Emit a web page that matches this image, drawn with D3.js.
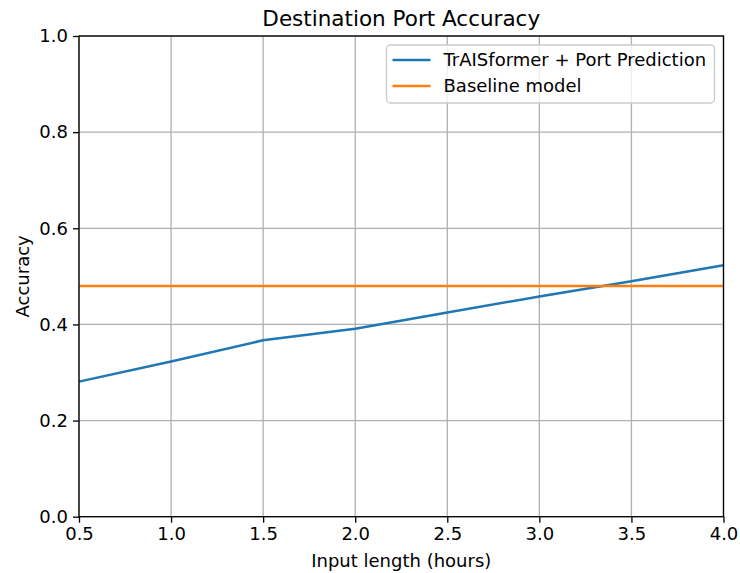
<!DOCTYPE html>
<html>
<head>
<meta charset="utf-8">
<script src="https://cdn.jsdelivr.net/npm/d3@7"></script>
<style>
  body { margin: 0; background: #fff; }
  text { font-family: "DejaVu Sans", sans-serif; fill: #000; }
</style>
</head>
<body>
<div id="vis"></div>
<script>
// data
var inputHours = [0.5, 1.0, 1.5, 2.0, 2.5, 3.0, 3.5, 4.0];
var portAccuracy = [0.281, 0.323, 0.367, 0.391, 0.425, 0.458, 0.490, 0.523];
var baselineAccuracy = 0.48;
var xTicks = [0.5, 1.0, 1.5, 2.0, 2.5, 3.0, 3.5, 4.0];
var yTicks = [0.0, 0.2, 0.4, 0.6, 0.8, 1.0];
var seriesNames = ["TrAISformer + Port Prediction", "Baseline model"];
var seriesColors = ["#1f77b4", "#ff7f0e"];

var width = 740, height = 573;
var margin = {left: 79, top: 36, right: 16.5, bottom: 56.3};

var svg = d3.select("#vis").append("svg")
  .attr("width", width)
  .attr("height", height);

var x = d3.scaleLinear().domain([0.5, 4.0]).range([margin.left, width - margin.right]);
var y = d3.scaleLinear().domain([0, 1]).range([height - margin.bottom, margin.top]);

// grid
svg.append("g").selectAll("line").data(xTicks).join("line")
  .attr("x1", d => x(d)).attr("x2", d => x(d))
  .attr("y1", y(0)).attr("y2", y(1))
  .attr("stroke", "#b0b0b0").attr("stroke-width", 1.3);
svg.append("g").selectAll("line").data(yTicks).join("line")
  .attr("x1", x(0.5)).attr("x2", x(4.0))
  .attr("y1", d => y(d)).attr("y2", d => y(d))
  .attr("stroke", "#b0b0b0").attr("stroke-width", 1.3);

// series
var line = d3.line().x((d, i) => x(inputHours[i])).y(d => y(d));
svg.append("path").datum(portAccuracy)
  .attr("d", line)
  .attr("fill", "none")
  .attr("stroke", seriesColors[0])
  .attr("stroke-width", 2.5);

svg.append("line")
  .attr("x1", x(0.5)).attr("x2", x(4.0))
  .attr("y1", y(baselineAccuracy)).attr("y2", y(baselineAccuracy))
  .attr("stroke", seriesColors[1])
  .attr("stroke-width", 2.5);

// axes
var xAxis = svg.append("g")
  .attr("transform", `translate(0,${y(0)})`)
  .call(d3.axisBottom(x).tickValues(xTicks).tickFormat(d3.format(".1f")).tickSize(6).tickPadding(5));
var yAxis = svg.append("g")
  .attr("transform", `translate(${x(0.5)},0)`)
  .call(d3.axisLeft(y).tickValues(yTicks).tickFormat(d3.format(".1f")).tickSize(6).tickPadding(5));
[xAxis, yAxis].forEach(g => {
  g.selectAll(".domain").remove();
  g.selectAll(".tick line").attr("stroke", "#000").attr("stroke-width", 1.3);
  g.selectAll(".tick text").attr("font-size", "18px").attr("font-family", "DejaVu Sans").attr("fill", "#000");
});

// frame
svg.append("rect")
  .attr("x", x(0.5)).attr("y", y(1))
  .attr("width", x(4.0) - x(0.5)).attr("height", y(0) - y(1))
  .attr("fill", "none").attr("stroke", "#000").attr("stroke-width", 1.3);

// labels
svg.append("text")
  .attr("x", (x(0.5) + x(4.0)) / 2).attr("y", 26)
  .attr("text-anchor", "middle").attr("font-size", "21.5px")
  .text("Destination Port Accuracy");
svg.append("text")
  .attr("x", (x(0.5) + x(4.0)) / 2).attr("y", 567)
  .attr("text-anchor", "middle").attr("font-size", "18px")
  .text("Input length (hours)");
svg.append("text")
  .attr("transform", `translate(29,${(y(0) + y(1)) / 2}) rotate(-90)`)
  .attr("text-anchor", "middle").attr("font-size", "18px")
  .text("Accuracy");

// legend
var legend = svg.append("g").attr("transform", "translate(386.5,45)");
legend.append("rect")
  .attr("width", 328).attr("height", 58).attr("rx", 4)
  .attr("fill", "#fff").attr("fill-opacity", 0.8)
  .attr("stroke", "#cccccc").attr("stroke-width", 1.3);
seriesNames.forEach((name, i) => {
  var row = legend.append("g").attr("transform", `translate(0,${15 + i * 26})`);
  row.append("line").attr("x1", 6).attr("x2", 44)
    .attr("stroke", seriesColors[i]).attr("stroke-width", 2.5);
  row.append("text").attr("x", 57).attr("y", 0).attr("dy", "0.35em")
    .attr("font-size", "18px").text(name);
});
</script>
</body>
</html>
